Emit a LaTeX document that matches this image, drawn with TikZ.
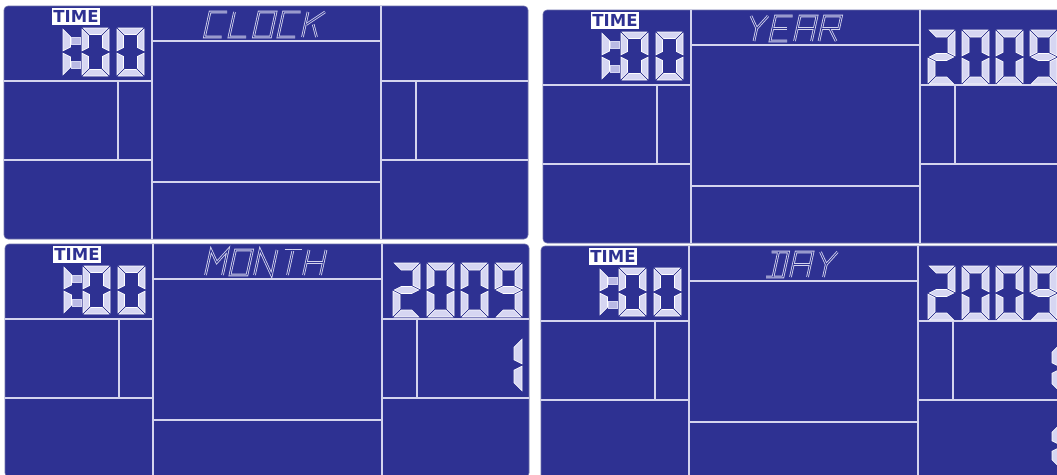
\documentclass[tikz,border=0pt]{standalone}
\usepackage{fontspec}
\newfontfamily\timefont{DejaVu Sans}
\definecolor{lcd}{RGB}{46,49,146}
\definecolor{lcdline}{RGB}{212,212,238}
\definecolor{segfill}{RGB}{214,214,242}
\definecolor{dotfill}{RGB}{185,185,228}
\definecolor{lcdedge}{RGB}{110,112,170}
\tikzset{
  lcdgrid/.style={draw=lcdline, line width=1.7pt},
  lcdseg/.style={fill=segfill, draw=white, line width=0.6pt, line join=miter},
  colondot/.style={fill=dotfill, draw=segfill, line width=0.4pt},
  letout/.style={draw=lcdline, line width=2.6pt, line cap=square, line join=miter},
  letin/.style={draw=lcd, line width=0.9pt, line join=miter},
  timebox/.style={fill=white, text=lcd, inner sep=0pt, minimum width=48pt, minimum height=17pt,
    font=\timefont\bfseries\fontsize{16.5}{16.5}\selectfont}
}
% seven-segment pieces (origin top-left, y downwards)
\newcommand\lcdsega{\path[lcdseg] (\sG,0) -- (\sW-\sG,0) -- (\sW-\sG-\sT,\sT) -- (\sG+\sT,\sT) -- cycle;}
\newcommand\lcdsegb{\path[lcdseg] (\sW,\sG) -- (\sW,\sH/2-\sG) -- (\sW-\sT,\sH/2-\sG-\sT/2) -- (\sW-\sT,\sG+\sT) -- cycle;}
\newcommand\lcdsegc{\path[lcdseg] (\sW,\sH/2+\sG) -- (\sW,\sH-\sG) -- (\sW-\sT,\sH-\sG-\sT) -- (\sW-\sT,\sH/2+\sG+\sT/2) -- cycle;}
\newcommand\lcdsegd{\path[lcdseg] (\sG,\sH) -- (\sW-\sG,\sH) -- (\sW-\sG-\sT,\sH-\sT) -- (\sG+\sT,\sH-\sT) -- cycle;}
\newcommand\lcdsege{\path[lcdseg] (0,\sH/2+\sG) -- (0,\sH-\sG) -- (\sT,\sH-\sG-\sT) -- (\sT,\sH/2+\sG+\sT/2) -- cycle;}
\newcommand\lcdsegf{\path[lcdseg] (0,\sG) -- (0,\sH/2-\sG) -- (\sT,\sH/2-\sG-\sT/2) -- (\sT,\sG+\sT) -- cycle;}
\newcommand\lcdsegg{\path[lcdseg] (\sG,\sH/2) -- (\sG+\sT,\sH/2-\sT/2) -- (\sW-\sG-\sT,\sH/2-\sT/2) -- (\sW-\sG,\sH/2) -- (\sW-\sG-\sT,\sH/2+\sT/2) -- (\sG+\sT,\sH/2+\sT/2) -- cycle;}
\newcommand\lcddigit[3]{\begin{scope}[shift={(#1,#2)}]\foreach \segname in {#3}{\csname lcdseg\segname\endcsname}\end{scope}}
% segmented letters
\newcommand\letC[1]{\draw[#1] (17,0) -- (0,0) -- (0,25) -- (17,25);}
\newcommand\letL[1]{\draw[#1] (0,0) -- (0,25) -- (17,25);}
\newcommand\letO[1]{\draw[#1] (0,0) -- (17,0) -- (17,25) -- (0,25) -- cycle;}
\newcommand\letK[1]{\draw[#1] (0,0) -- (0,25); \draw[#1] (1,12.5) -- (17,0); \draw[#1] (8,12.5) -- (14,25);}
\newcommand\letY[1]{\draw[#1] (0,0) -- (8.5,12.5) -- (17,0); \draw[#1] (8.5,12.5) -- (8.5,25);}
\newcommand\letE[1]{\draw[#1] (17,0) -- (0,0) -- (0,25) -- (17,25); \draw[#1] (0,12.5) -- (14,12.5);}
\newcommand\letA[1]{\draw[#1] (0,25) -- (0,0) -- (17,0) -- (17,25); \draw[#1] (0,12.5) -- (17,12.5);}
\newcommand\letR[1]{\draw[#1] (0,25) -- (0,0) -- (17,0) -- (17,12.5) -- (0,12.5); \draw[#1] (8,12.5) -- (17,25);}
\newcommand\letM[1]{\draw[#1] (0,25) -- (0,0) -- (8.5,12.5) -- (17,0) -- (17,25);}
\newcommand\letN[1]{\draw[#1] (0,25) -- (0,0) -- (17,25) -- (17,0);}
\newcommand\letT[1]{\draw[#1] (0,0) -- (17,0); \draw[#1] (8.5,0) -- (8.5,25);}
\newcommand\letH[1]{\draw[#1] (0,0) -- (0,25); \draw[#1] (17,0) -- (17,25); \draw[#1] (0,12.5) -- (17,12.5);}
\newcommand\letD[1]{\draw[#1] (0,0) -- (17,0) -- (17,25) -- (0,25); \draw[#1] (7,0) -- (7,25);}
\newcommand\lcdword[3]{%
  \foreach \ch [count=\ci from 0] in {#3}{\begin{scope}[shift={(#1+24.5*\ci,#2)}, xslant=0.22]\csname let\ch\endcsname{letout}\end{scope}}%
  \foreach \ch [count=\ci from 0] in {#3}{\begin{scope}[shift={(#1+24.5*\ci,#2)}, xslant=0.22]\csname let\ch\endcsname{letin}\end{scope}}}
% one LCD panel
\newcommand\lcdbase[3]{%
  \begin{scope}[shift={(#1,#2)}]
    \fill[lcd, draw=lcdedge, line width=0.6pt, rounded corners=4pt] (0,0) rectangle (524,233);
    \draw[lcdgrid] (148,0) -- (148,233);
    \draw[lcdgrid] (377,0) -- (377,233);
    \draw[lcdgrid] (0,75) -- (148,75);
    \draw[lcdgrid] (114,75) -- (114,154);
    \draw[lcdgrid] (0,154) -- (148,154);
    \draw[lcdgrid] (148,35) -- (377,35);
    \draw[lcdgrid] (148,176) -- (377,176);
    \draw[lcdgrid] (377,75) -- (524,75);
    \draw[lcdgrid] (412,75) -- (412,154);
    \draw[lcdgrid] (377,154) -- (524,154);
    \node[timebox] (time#3) at (72,10.5) {TIME};
    \def\sW{27}\def\sH{48}\def\sT{7.5}\def\sG{1.2}
    \lcddigit{59}{22}{f,e}
    \path[colondot] (67,31) rectangle (76,38);
    \path[colondot] (67,55) rectangle (76,62);
    \def\sT{6.5}
    \lcddigit{78}{22}{a,b,c,d,e,f}
    \lcddigit{113}{22}{a,b,c,d,e,f}
  \end{scope}}
\begin{document}
\begin{tikzpicture}[x=1pt,y=-1pt]
\useasboundingbox (0,0) rectangle (1057,474);
\clip (0,0) rectangle (1057,474);
\fill[white] (0,0) rectangle (1057,474);
\lcdbase{4}{6}{1}
\lcdbase{543}{10}{2}
\lcdbase{5}{244}{3}
\lcdbase{541}{246}{4}
% header words
\lcdword{4+206}{12}{C,L,O,C,K}
\lcdword{543+208}{16}{Y,E,A,R}
\lcdword{5+206}{250}{M,O,N,T,H}
\lcdword{541+206+24.5}{252}{D,A,Y}
% year digits
\def\sW{27}\def\sH{54}\def\sT{7}\def\sG{1.2}
\lcddigit{928}{30}{a,b,g,e,d}
\lcddigit{962}{30}{a,b,c,d,e,f}
\lcddigit{996}{30}{a,b,c,d,e,f}
\lcddigit{1030}{30}{a,b,c,d,f,g}
\lcddigit{393}{263}{a,b,g,e,d}
\lcddigit{427}{263}{a,b,c,d,e,f}
\lcddigit{461}{263}{a,b,c,d,e,f}
\lcddigit{495}{263}{a,b,c,d,f,g}
\lcddigit{928}{266}{a,b,g,e,d}
\lcddigit{962}{266}{a,b,c,d,e,f}
\lcddigit{996}{266}{a,b,c,d,e,f}
\lcddigit{1030}{266}{a,b,c,d,f,g}
% month / day digits
\def\sT{8}
\lcddigit{495}{338}{b,c}
\def\sH{50}
\lcddigit{1033}{343}{b,c}
\def\sH{46}
\lcddigit{1033}{423}{b,c}
\end{tikzpicture}
\end{document}
